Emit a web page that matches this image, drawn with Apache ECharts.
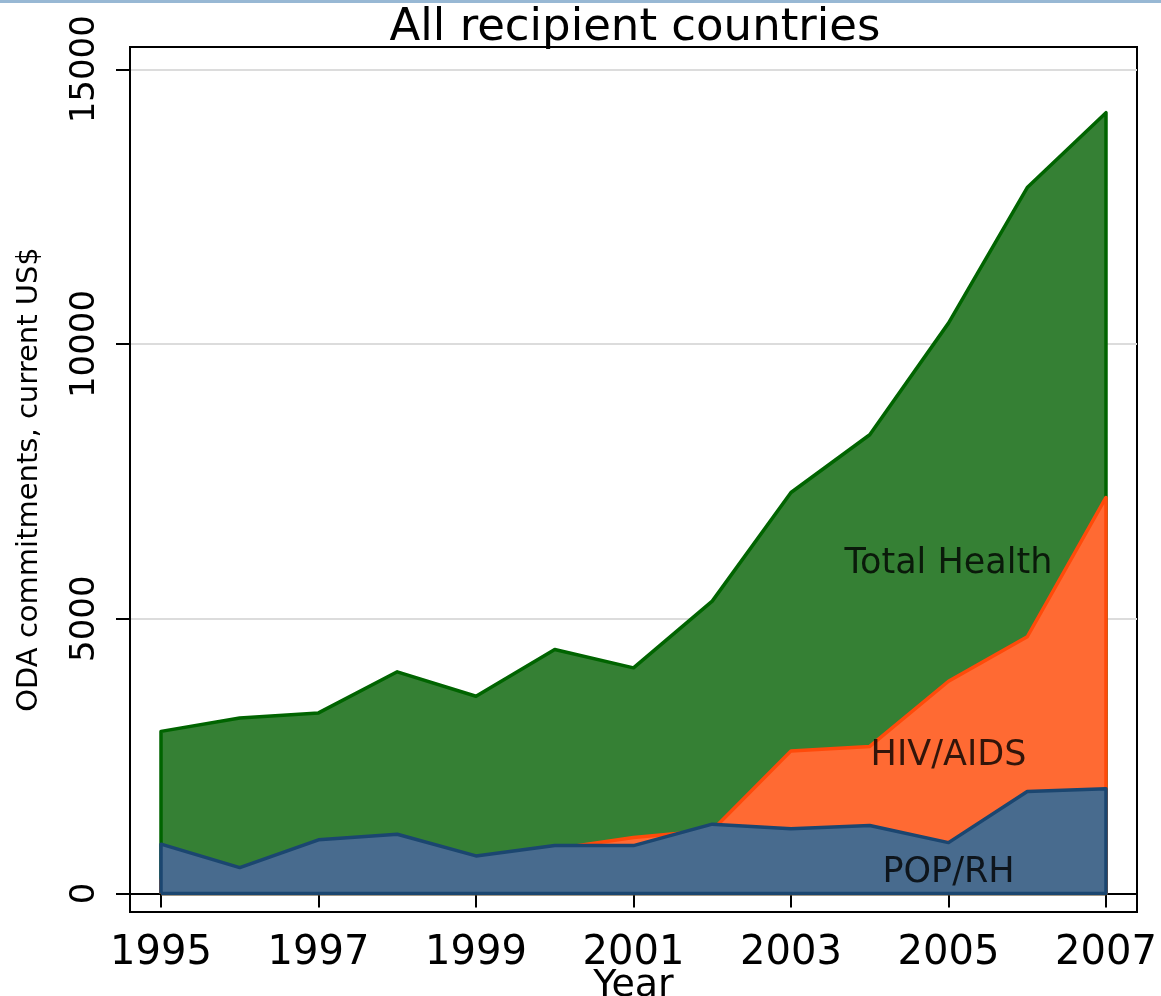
<!DOCTYPE html>
<html><head><meta charset="utf-8">
<script src="https://cdn.jsdelivr.net/npm/echarts@6/dist/echarts.min.js"></script>
<style>html,body{margin:0;padding:0;background:#fff}#c{width:1161px;height:996px}</style>
</head><body><div id="c"></div>
<script>
const years = [1995, 1996, 1997, 1998, 1999, 2000, 2001, 2002, 2003, 2004, 2005, 2006, 2007];
const totalHealth = [2950, 3195, 3286, 4034, 3589, 4440, 4106, 5321, 7298, 8348, 10380, 12847, 14209];
const hivAids = [250, 280, 350, 450, 550, 810, 1017, 1150, 2595, 2677, 3862, 4672, 7207];
const popRh = [897, 471, 976, 1079, 684, 872, 872, 1262, 1176, 1236, 926, 1856, 1906];
const xTickLabels = [1995, 1997, 1999, 2001, 2003, 2005, 2007];
const yTickLabels = [0, 5000, 10000, 15000];
const annotationNames = ['Total Health', 'HIV/AIDS', 'POP/RH'];
const annotationYears = [2005, 2005, 2005];
const annotationValues = [6000, 2500, 375];

const FONT = 'DejaVu Sans';

function closedShape(vals) {
  const pts = years.map((y, i) => [y, vals[i]]);
  const first = years[0], last = years[years.length - 1];
  return [[first, 0]].concat(pts, [[last, 0], [first, 0]]);
}

function areaSeries(name, vals, fill, stroke, z) {
  return {
    name: name, type: 'line', data: closedShape(vals), z: z,
    symbol: 'none', smooth: false, animation: false,
    lineStyle: { color: stroke, width: 3.5, join: 'round' },
    itemStyle: { color: stroke },
    areaStyle: { color: fill, opacity: 1, origin: 'auto' }
  };
}

const chart = echarts.init(document.getElementById('c'), null, { renderer: 'canvas' });
chart.setOption({
  backgroundColor: '#ffffff',
  animation: false,
  title: {
    text: 'All recipient countries', left: 635, top: 6, padding: 0,
    textAlign: 'center',
    textStyle: { fontFamily: FONT, fontSize: 45, fontWeight: 'normal', color: '#000' }
  },
  graphic: [{ type: 'rect', left: 0, top: 0, shape: { width: 1161, height: 3 }, style: { fill: '#98b8d4' }, z: 100 }],
  grid: { left: 130, right: 24, top: 47, bottom: 84, show: true, borderColor: '#000', borderWidth: 2, backgroundColor: '#fff', containLabel: false, outerBoundsMode: 'none' },
  xAxis: {
    type: 'value', min: 1994.6063, max: 2007.3937,
    axisLine: { show: true, lineStyle: { color: '#000', width: 2 } },
    axisTick: { show: true, length: 14, lineStyle: { color: '#000', width: 2 }, customValues: xTickLabels },
    axisLabel: { customValues: xTickLabels, fontFamily: FONT, fontSize: 40, color: '#000', margin: 22, formatter: v => String(v) },
    splitLine: { show: false },
    name: 'Year', nameLocation: 'middle', nameGap: 55, nameMoveOverlap: false,
    nameTextStyle: { fontFamily: FONT, fontSize: 38, color: '#000', lineHeight: 38 }
  },
  yAxis: {
    type: 'value', min: -337, max: 15405,
    axisLine: { show: true, lineStyle: { color: '#000', width: 2 } },
    axisTick: { show: true, length: 14, lineStyle: { color: '#000', width: 2 }, customValues: yTickLabels },
    axisLabel: { customValues: yTickLabels, rotate: 90, fontFamily: FONT, fontSize: 34, color: '#000', margin: 28, formatter: v => String(v) },
    splitLine: { show: true, lineStyle: { color: '#dcdcdc', width: 2 } },
    name: 'ODA commitments, current US$', nameLocation: 'middle', nameGap: 86, nameRotate: 90, nameMoveOverlap: false,
    nameTextStyle: { fontFamily: FONT, fontSize: 29, color: '#000' }
  },
  series: [
    areaSeries('Total Health', totalHealth, '#358034', '#006400', 2),
    areaSeries('HIV/AIDS', hivAids, '#ff6a33', '#ff4a0a', 3),
    areaSeries('POP/RH', popRh, '#486b8e', '#1b4670', 4),
    {
      type: 'scatter', z: 10, symbolSize: 1, animation: false,
      itemStyle: { color: 'rgba(0,0,0,0)' },
      data: annotationNames.map((n, i) => ({ name: n, value: [annotationYears[i], annotationValues[i]] })),
      label: { show: true, position: 'inside', formatter: p => p.name, fontFamily: FONT, fontSize: 35, color: '#000' }
    }
  ]
});
</script></body></html>
